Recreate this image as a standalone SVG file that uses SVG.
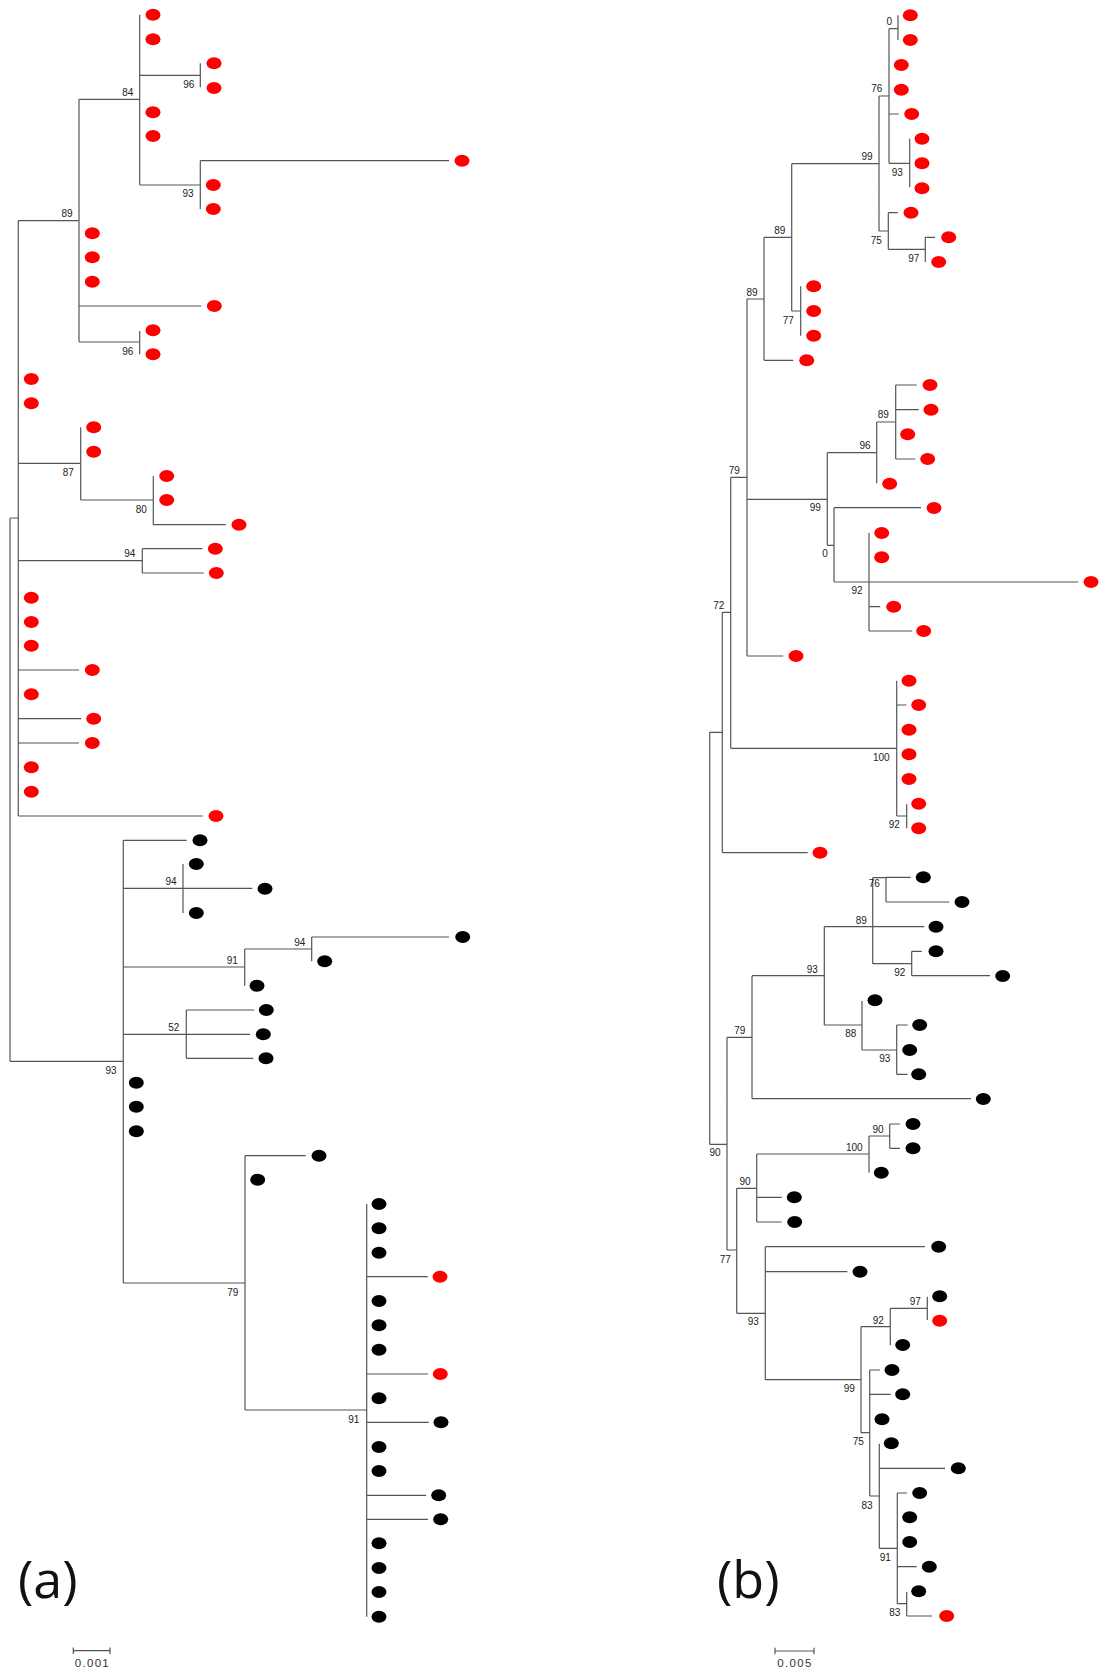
<svg xmlns="http://www.w3.org/2000/svg" xmlns:xlink="http://www.w3.org/1999/xlink" width="1101" height="1671" viewBox="0 0 1101 1671">
<style>
.br{fill:none;stroke:#555;stroke-width:1.2}
.s{font-family:"Liberation Sans",Arial,sans-serif;font-size:10px;fill:#222;text-anchor:middle}
.sc{font-family:"Liberation Sans",Arial,sans-serif;font-size:11.5px;fill:#333;text-anchor:middle;letter-spacing:1.3px}
.pl{font-family:"Open Sans","Noto Sans",sans-serif;font-size:52px;fill:#111}
</style>
<defs>
<ellipse id="R" cx="0" cy="0" rx="7.5" ry="6" fill="#ff0000"/>
<ellipse id="K" cx="0" cy="0" rx="7.5" ry="6" fill="#000"/>
</defs>
<rect width="1101" height="1671" fill="#fff"/>

<g id="connectors-a" class="br">
<path d="M10,518V1061.3M10,518H18.3M10,1061.3H123.3"/>
<path d="M18.3,220.7V816M18.3,220.7H79M18.3,463.3H80.7M18.3,560.7H142.3M18.3,670H79M18.3,718.7H81.3M18.3,743H79M18.3,816H202.7"/>
<path d="M79,99.3V342M79,99.3H139.7M79,306H201.3M79,342H139.7"/>
<path d="M139.7,14.7V185M139.7,75.3H200.3M139.7,185H200.3M200.3,63.3V87.3M200.3,160.7V209M200.3,160.7H449M139.7,331V354.3"/>
<path d="M80.7,427.3V500M80.7,500H153.3M153.3,476V524.7M153.3,524.7H225.7M142.3,548.7V573M142.3,548.7H202.3M142.3,573H203.7"/>
<path d="M123.3,840.3V1283M123.3,840.3H186.7M123.3,888.3H252.3M183,864V913M123.3,967H244.7M244.7,949V985.7M244.7,949H311.7M311.7,937V961.3M311.7,937H449M123.3,1034.3H250M186.3,1010V1058.3M186.3,1010H254.3M186.3,1058.3H253.3M123.3,1283H245"/>
<path d="M245,1155.7V1410M245,1155.7H305.7M245,1410H366.7M366.7,1204V1616.7M366.7,1276.7H427.7M366.7,1374H428M366.7,1422.3H428.7M366.7,1495.3H426M366.7,1519.3H428"/>
</g>

<g id="connectors-b" class="br">
<path d="M709.7,732.3V1144.3M709.7,732.3H722.3M709.7,1144.3H727"/>
<path d="M722.3,612.3V852.7M722.3,612.3H730.7M722.3,852.7H807.7M730.7,477.3V748.3M730.7,477.3H747M730.7,748.3H896.7"/>
<path d="M747,299V656M747,299H764M747,499.3H827.3M747,656H783.3M764,237.3V360.3M764,237.3H791.7M764,360.3H793.3M791.7,163.7V311M791.7,163.7H879M791.7,311H800.7M800.7,286.3V335.7"/>
<path d="M879,96V231M879,96H889M879,231H888.3M889,28.7V163.3M889,28.7H898M889,114H898.7M889,163.3H909.7M898,15.3V40M909.7,138.7V187.3M888.3,212.7V249.3M888.3,212.7H897.7M888.3,249.3H925.3M925.3,237.3V262M925.3,237.3H935"/>
<path d="M827.3,452.7V545.3M827.3,452.7H876.7M827.3,545.3H834M876.7,422V483.3M876.7,422H895.7M895.7,385V459M895.7,385H916.7M895.7,409.7H918.7M895.7,459H915.3M834,507.7V582M834,507.7H921M834,582H1078.3M869,533V631M869,606.7H880.3M869,631H912.3"/>
<path d="M896.7,680.7V816M896.7,705H906.3M896.7,816H906.7M906.7,804.3V828.3"/>
<path d="M727,1037.3V1250M727,1037.3H752M727,1250H736.7M752,975.7V1098.7M752,975.7H824.3M752,1098.7H971"/>
<path d="M824.3,926.7V1025M824.3,926.7H924.3M824.3,1025H862M872.7,877.7V963.7M872.7,877.7H886M872.7,963.7H911.7M886,877.3V902M886,877.3H910.7M886,902H949.3M911.7,951.3V975.7M911.7,951.3H921.7M911.7,975.7H990M862,1001V1050M862,1050H896.7M896.7,1025V1074.3M896.7,1025H907.7M896.7,1074.3H907.7"/>
<path d="M736.7,1188.3V1313.3M736.7,1188.3H756.7M736.7,1313.3H765.3M756.7,1154V1222M756.7,1154H869M756.7,1197.3H781.7M756.7,1222H781.7M869,1136V1172.7M869,1136H889.7M889.7,1124V1148.3M889.7,1124H900M889.7,1148.3H900"/>
<path d="M765.3,1246.7V1379.7M765.3,1246.7H925M765.3,1271.7H847.3M765.3,1379.7H861M861,1326.7V1432.7M861,1326.7H890.3M861,1432.7H869.7M890.3,1308.3V1345.3M890.3,1308.3H927.3M927.3,1296.7V1320"/>
<path d="M869.7,1370V1496M869.7,1370H880M869.7,1394.3H890.7M869.7,1496H879.3M879.3,1443.7V1548.3M879.3,1468.3H945M879.3,1548.3H897.3M897.3,1493V1603.7M897.3,1493H907M897.3,1566.7H916.7M897.3,1603.7H906.7M906.7,1592V1616M906.7,1616H932.3"/>
</g>

<g id="tree-a-leaves">
<g id="a1"><use href="#R" x="153" y="14.7"/></g>
<g id="a2"><use href="#R" x="153" y="39.3"/></g>
<g id="a3"><use href="#R" x="214" y="63.3"/></g>
<g id="a4"><use href="#R" x="214" y="88"/></g>
<g id="a5"><use href="#R" x="153" y="112.3"/></g>
<g id="a6"><use href="#R" x="153" y="136"/></g>
<g id="a7"><use href="#R" x="462" y="160.7"/></g>
<g id="a8"><use href="#R" x="213.3" y="185"/></g>
<g id="a9"><use href="#R" x="213.3" y="209"/></g>
<g id="a10"><use href="#R" x="92.3" y="233.3"/></g>
<g id="a11"><use href="#R" x="92.3" y="257.3"/></g>
<g id="a12"><use href="#R" x="92.3" y="281.7"/></g>
<g id="a13"><use href="#R" x="214.3" y="306"/></g>
<g id="a14"><use href="#R" x="153" y="330.3"/></g>
<g id="a15"><use href="#R" x="153" y="354.3"/></g>
<g id="a16"><use href="#R" x="31.3" y="379"/></g>
<g id="a17"><use href="#R" x="31.3" y="403.3"/></g>
<g id="a18"><use href="#R" x="93.7" y="427.3"/></g>
<g id="a19"><use href="#R" x="93.7" y="451.7"/></g>
<g id="a20"><use href="#R" x="166.7" y="476"/></g>
<g id="a21"><use href="#R" x="166.7" y="500"/></g>
<g id="a22"><use href="#R" x="239" y="524.7"/></g>
<g id="a23"><use href="#R" x="215.3" y="548.7"/></g>
<g id="a24"><use href="#R" x="216.3" y="573"/></g>
<g id="a25"><use href="#R" x="31.3" y="597.7"/></g>
<g id="a26"><use href="#R" x="31.3" y="622"/></g>
<g id="a27"><use href="#R" x="31.3" y="645.7"/></g>
<g id="a28"><use href="#R" x="92.3" y="670"/></g>
<g id="a29"><use href="#R" x="31.3" y="694.3"/></g>
<g id="a30"><use href="#R" x="93.7" y="718.7"/></g>
<g id="a31"><use href="#R" x="92.3" y="743"/></g>
<g id="a32"><use href="#R" x="31.3" y="767.3"/></g>
<g id="a33"><use href="#R" x="31.3" y="791.7"/></g>
<g id="a34"><use href="#R" x="216" y="816"/></g>
<g id="a35"><use href="#K" x="200" y="840.3"/></g>
<g id="a36"><use href="#K" x="196.3" y="864"/></g>
<g id="a37"><use href="#K" x="265" y="888.7"/></g>
<g id="a38"><use href="#K" x="196.3" y="913"/></g>
<g id="a39"><use href="#K" x="462.7" y="937"/></g>
<g id="a40"><use href="#K" x="324.7" y="961.3"/></g>
<g id="a41"><use href="#K" x="257" y="985.7"/></g>
<g id="a42"><use href="#K" x="266.3" y="1010"/></g>
<g id="a43"><use href="#K" x="263.3" y="1034.3"/></g>
<g id="a44"><use href="#K" x="266" y="1058.3"/></g>
<g id="a45"><use href="#K" x="136.3" y="1082.7"/></g>
<g id="a46"><use href="#K" x="136.3" y="1106.7"/></g>
<g id="a47"><use href="#K" x="136.3" y="1131.3"/></g>
<g id="a48"><use href="#K" x="319" y="1155.7"/></g>
<g id="a49"><use href="#K" x="257.7" y="1179.7"/></g>
<g id="a50"><use href="#K" x="379" y="1204"/></g>
<g id="a51"><use href="#K" x="379" y="1228.3"/></g>
<g id="a52"><use href="#K" x="379" y="1252.7"/></g>
<g id="a53"><use href="#R" x="440" y="1276.7"/></g>
<g id="a54"><use href="#K" x="379" y="1301"/></g>
<g id="a55"><use href="#K" x="379" y="1325.3"/></g>
<g id="a56"><use href="#K" x="379" y="1349.7"/></g>
<g id="a57"><use href="#R" x="440.3" y="1374"/></g>
<g id="a58"><use href="#K" x="379" y="1398.3"/></g>
<g id="a59"><use href="#K" x="441" y="1422.3"/></g>
<g id="a60"><use href="#K" x="379" y="1447"/></g>
<g id="a61"><use href="#K" x="379" y="1471"/></g>
<g id="a62"><use href="#K" x="438.7" y="1495.3"/></g>
<g id="a63"><use href="#K" x="440.7" y="1519.3"/></g>
<g id="a64"><use href="#K" x="379" y="1543.3"/></g>
<g id="a65"><use href="#K" x="379" y="1568"/></g>
<g id="a66"><use href="#K" x="379" y="1592"/></g>
<g id="a67"><use href="#K" x="379" y="1616.7"/></g>
</g>

<g id="tree-b-leaves">
<g id="b1"><use href="#R" x="910.3" y="15.3"/></g>
<g id="b2"><use href="#R" x="910.3" y="40"/></g>
<g id="b3"><use href="#R" x="901.3" y="65"/></g>
<g id="b4"><use href="#R" x="901.3" y="89.7"/></g>
<g id="b5"><use href="#R" x="911.7" y="114"/></g>
<g id="b6"><use href="#R" x="922" y="138.7"/></g>
<g id="b7"><use href="#R" x="922" y="163.3"/></g>
<g id="b8"><use href="#R" x="922" y="188.3"/></g>
<g id="b9"><use href="#R" x="911" y="212.7"/></g>
<g id="b10"><use href="#R" x="948.7" y="237.3"/></g>
<g id="b11"><use href="#R" x="938.7" y="262"/></g>
<g id="b12"><use href="#R" x="813.7" y="286.3"/></g>
<g id="b13"><use href="#R" x="813.7" y="311"/></g>
<g id="b14"><use href="#R" x="813.7" y="335.7"/></g>
<g id="b15"><use href="#R" x="806.7" y="360.3"/></g>
<g id="b16"><use href="#R" x="930" y="385"/></g>
<g id="b17"><use href="#R" x="931" y="409.7"/></g>
<g id="b18"><use href="#R" x="907.7" y="434.3"/></g>
<g id="b19"><use href="#R" x="927.7" y="459"/></g>
<g id="b20"><use href="#R" x="889.7" y="483.7"/></g>
<g id="b21"><use href="#R" x="934" y="508"/></g>
<g id="b22"><use href="#R" x="881.7" y="533"/></g>
<g id="b23"><use href="#R" x="881.7" y="557.3"/></g>
<g id="b24"><use href="#R" x="1091" y="582"/></g>
<g id="b25"><use href="#R" x="893.7" y="606.7"/></g>
<g id="b26"><use href="#R" x="923.7" y="631"/></g>
<g id="b27"><use href="#R" x="796" y="656"/></g>
<g id="b28"><use href="#R" x="909" y="680.7"/></g>
<g id="b29"><use href="#R" x="918.7" y="705"/></g>
<g id="b30"><use href="#R" x="909" y="729.7"/></g>
<g id="b31"><use href="#R" x="909" y="754.3"/></g>
<g id="b32"><use href="#R" x="909" y="779"/></g>
<g id="b33"><use href="#R" x="918.7" y="803.7"/></g>
<g id="b34"><use href="#R" x="918.7" y="828.3"/></g>
<g id="b35"><use href="#R" x="820" y="852.7"/></g>
<g id="b36"><use href="#K" x="923.3" y="877.3"/></g>
<g id="b37"><use href="#K" x="962" y="902"/></g>
<g id="b38"><use href="#K" x="936" y="926.7"/></g>
<g id="b39"><use href="#K" x="936" y="951.3"/></g>
<g id="b40"><use href="#K" x="1002.7" y="976"/></g>
<g id="b41"><use href="#K" x="875" y="1000.3"/></g>
<g id="b42"><use href="#K" x="919.7" y="1025"/></g>
<g id="b43"><use href="#K" x="909.7" y="1050"/></g>
<g id="b44"><use href="#K" x="918.7" y="1074.3"/></g>
<g id="b45"><use href="#K" x="983.3" y="1099"/></g>
<g id="b46"><use href="#K" x="913" y="1124"/></g>
<g id="b47"><use href="#K" x="913" y="1148.3"/></g>
<g id="b48"><use href="#K" x="881.3" y="1172.7"/></g>
<g id="b49"><use href="#K" x="794.3" y="1197.3"/></g>
<g id="b50"><use href="#K" x="794.7" y="1222"/></g>
<g id="b51"><use href="#K" x="938.7" y="1246.7"/></g>
<g id="b52"><use href="#K" x="860" y="1271.7"/></g>
<g id="b53"><use href="#K" x="939.7" y="1296.3"/></g>
<g id="b54"><use href="#R" x="939.7" y="1320.7"/></g>
<g id="b55"><use href="#K" x="902.7" y="1345"/></g>
<g id="b56"><use href="#K" x="892" y="1370"/></g>
<g id="b57"><use href="#K" x="902.7" y="1394.3"/></g>
<g id="b58"><use href="#K" x="882" y="1419.3"/></g>
<g id="b59"><use href="#K" x="891.3" y="1443.3"/></g>
<g id="b60"><use href="#K" x="958.3" y="1468.3"/></g>
<g id="b61"><use href="#K" x="919.7" y="1493"/></g>
<g id="b62"><use href="#K" x="909.7" y="1517.3"/></g>
<g id="b63"><use href="#K" x="909.7" y="1542"/></g>
<g id="b64"><use href="#K" x="929.3" y="1566.7"/></g>
<g id="b65"><use href="#K" x="918.7" y="1591.3"/></g>
<g id="b66"><use href="#R" x="946.7" y="1616"/></g>
</g>

<g id="support-a">
<text class="s" x="127.7" y="96">84</text>
<text class="s" x="67" y="217">89</text>
<text class="s" x="188.7" y="88.3">96</text>
<text class="s" x="188" y="197.3">93</text>
<text class="s" x="127.7" y="355.3">96</text>
<text class="s" x="68.3" y="476.3">87</text>
<text class="s" x="141.3" y="512.6">80</text>
<text class="s" x="129.7" y="556.9">94</text>
<text class="s" x="171" y="884.6">94</text>
<text class="s" x="232.3" y="963.6">91</text>
<text class="s" x="299.7" y="945.6">94</text>
<text class="s" x="173.7" y="1030.6">52</text>
<text class="s" x="111" y="1073.9">93</text>
<text class="s" x="232.7" y="1295.6">79</text>
<text class="s" x="353.7" y="1422.9">91</text>
</g>

<g id="support-b">
<text class="s" x="889.3" y="24.9">0</text>
<text class="s" x="876.7" y="92.3">76</text>
<text class="s" x="867" y="159.9">99</text>
<text class="s" x="897.3" y="175.9">93</text>
<text class="s" x="876.3" y="243.6">75</text>
<text class="s" x="913.7" y="261.9">97</text>
<text class="s" x="779.7" y="233.6">89</text>
<text class="s" x="752" y="295.6">89</text>
<text class="s" x="788.3" y="323.6">77</text>
<text class="s" x="883.3" y="418.3">89</text>
<text class="s" x="865" y="449.3">96</text>
<text class="s" x="734.3" y="473.9">79</text>
<text class="s" x="815.3" y="510.9">99</text>
<text class="s" x="825" y="557.3">0</text>
<text class="s" x="857" y="594.3">92</text>
<text class="s" x="718.7" y="609.3">72</text>
<text class="s" x="881.3" y="760.6">100</text>
<text class="s" x="894.3" y="828.3">92</text>
<text class="s" x="874.3" y="886.6">76</text>
<text class="s" x="861.3" y="923.6">89</text>
<text class="s" x="812.3" y="972.6">93</text>
<text class="s" x="899.7" y="976.3">92</text>
<text class="s" x="739.7" y="1034.3">79</text>
<text class="s" x="850.7" y="1037.3">88</text>
<text class="s" x="884.7" y="1062.3">93</text>
<text class="s" x="854.3" y="1150.9">100</text>
<text class="s" x="878" y="1132.6">90</text>
<text class="s" x="715" y="1156.3">90</text>
<text class="s" x="745" y="1184.9">90</text>
<text class="s" x="725.3" y="1262.9">77</text>
<text class="s" x="915.3" y="1305.3">97</text>
<text class="s" x="878.3" y="1323.6">92</text>
<text class="s" x="753.3" y="1325.3">93</text>
<text class="s" x="849.3" y="1392.3">99</text>
<text class="s" x="858.3" y="1445.3">75</text>
<text class="s" x="867" y="1508.6">83</text>
<text class="s" x="885.3" y="1560.9">91</text>
<text class="s" x="894.7" y="1615.9">83</text>
</g>

<g id="scale-a">
<path class="br" d="M73.3,1650.7H110M73.3,1647.5V1654M110,1647.5V1654"/>
<text class="sc" x="92.4" y="1667">0.001</text>
</g>
<g id="scale-b">
<path class="br" d="M775,1651H814M775,1647.8V1654.3M814,1647.8V1654.3"/>
<text class="sc" x="795" y="1667">0.005</text>
</g>
<text id="label-a" class="pl" x="18" y="1598">(a)</text>
<text id="label-b" class="pl" x="717" y="1598">(b)</text>
</svg>
